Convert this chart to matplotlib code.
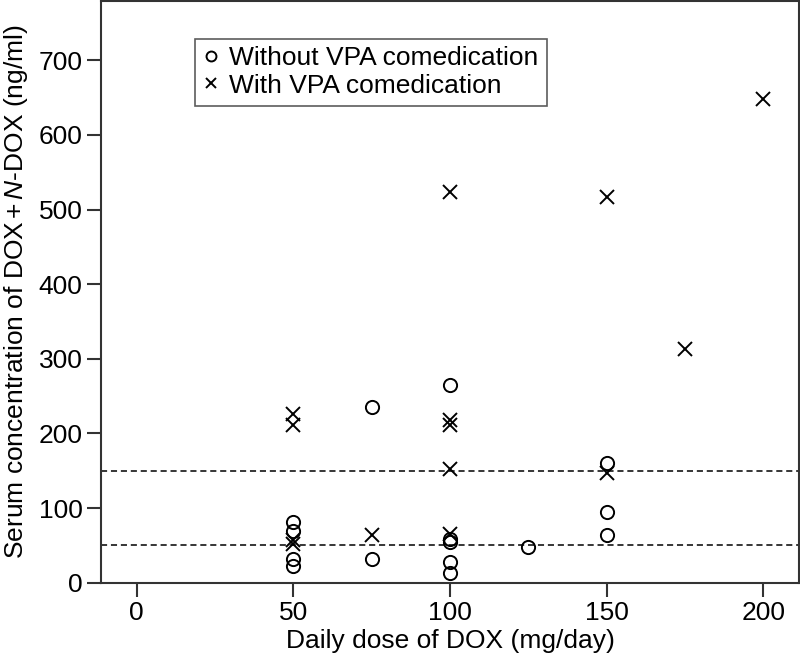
import numpy as np
import matplotlib.pyplot as plt

plt.rcParams['font.family'] = ['Liberation Sans', 'DejaVu Sans']
plt.rcParams['mathtext.fontset'] = 'custom'
plt.rcParams['mathtext.rm'] = 'Liberation Sans'
plt.rcParams['mathtext.it'] = 'Liberation Sans:italic'

# without VPA comedication (circles)
dose_without = [50, 50, 50, 50, 75, 75, 100, 100, 100, 100, 100, 125, 150, 150, 150]
conc_without = [82, 69, 32, 23, 32, 236, 265, 58, 54, 28, 13, 48, 161, 95, 64]

# with VPA comedication (crosses)
dose_with = [50, 50, 50, 50, 75, 100, 100, 100, 100, 100, 150, 150, 175, 200]
conc_with = [226, 211, 57, 52, 64, 524, 218, 211, 153, 65, 517, 147, 313, 648]

ref_lines = [50, 150]

fig = plt.figure(figsize=(8, 6.6), dpi=100)
ax = fig.add_axes([0.126, 0.117, 0.873, 0.881])

edge = '#333333'
fs = 19
ax.plot(dose_without, conc_without, 'o', mfc='none', mec='black', ms=9.5, mew=1.4,
        label='Without VPA comedication', zorder=3)
ax.plot(dose_with, conc_with, 'x', color='black', ms=10, mew=1.4,
        label='With VPA comedication', zorder=3)

for v in ref_lines:
    ax.axhline(v, color='black', lw=1.1, ls=(0, (4, 2.5)), zorder=2)

ax.set_xlim(-11.4, 211.4)
ax.set_ylim(0, 779)
ax.set_xticks([0, 50, 100, 150, 200])
ax.set_yticks(np.arange(0, 701, 100))

for s in ax.spines.values():
    s.set_color(edge)
    s.set_linewidth(1.5)
ax.tick_params(direction='out', length=10, width=1.5, color=edge, labelsize=fs, pad=3)

ax.set_xlabel('Daily dose of DOX (mg/day)', fontsize=fs, labelpad=3)
ax.set_ylabel(r'Serum concentration of DOX$\,$+$\,\mathit{N}$-DOX (ng/ml)', fontsize=fs, labelpad=6)

leg = ax.legend(loc='upper left', bbox_to_anchor=(0.135, 0.936), borderaxespad=0,
                fontsize=fs, frameon=True, fancybox=False, edgecolor=edge,
                handlelength=0.6, handletextpad=0.4, borderpad=0.3,
                labelspacing=0.12, markerscale=0.75)
leg.get_frame().set_linewidth(1.2)

fig.savefig('out.png', dpi=100)
